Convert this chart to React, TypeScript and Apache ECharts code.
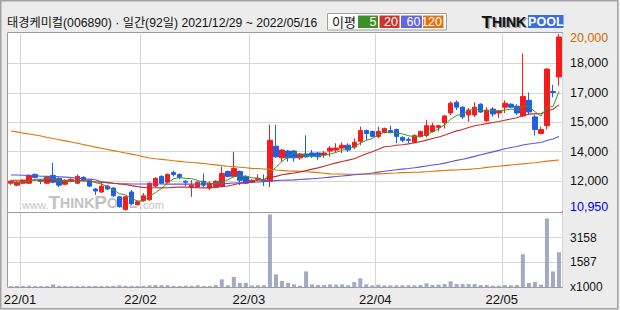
import React, { useEffect, useRef } from "react";
import * as echarts from "echarts";

const dates = [
  "2021/12/29", "2021/12/30",
  "2022/01/03", "2022/01/04", "2022/01/05", "2022/01/06", "2022/01/07", "2022/01/10", "2022/01/11", "2022/01/12", "2022/01/13", "2022/01/14",
  "2022/01/17", "2022/01/18", "2022/01/19", "2022/01/20", "2022/01/21", "2022/01/24", "2022/01/25", "2022/01/26", "2022/01/27", "2022/01/28",
  "2022/02/03", "2022/02/04", "2022/02/07", "2022/02/08", "2022/02/09", "2022/02/10", "2022/02/11", "2022/02/14", "2022/02/15", "2022/02/16",
  "2022/02/17", "2022/02/18", "2022/02/21", "2022/02/22", "2022/02/23", "2022/02/24", "2022/02/25", "2022/02/28",
  "2022/03/02", "2022/03/03", "2022/03/04", "2022/03/07", "2022/03/08", "2022/03/10", "2022/03/11", "2022/03/14", "2022/03/15", "2022/03/16",
  "2022/03/17", "2022/03/18", "2022/03/21", "2022/03/22", "2022/03/23", "2022/03/24", "2022/03/25", "2022/03/28", "2022/03/29", "2022/03/30", "2022/03/31",
  "2022/04/01", "2022/04/04", "2022/04/05", "2022/04/06", "2022/04/07", "2022/04/08", "2022/04/11", "2022/04/12", "2022/04/13", "2022/04/14",
  "2022/04/15", "2022/04/18", "2022/04/19", "2022/04/20", "2022/04/21", "2022/04/22", "2022/04/25", "2022/04/26", "2022/04/27", "2022/04/28", "2022/04/29",
  "2022/05/02", "2022/05/03", "2022/05/04", "2022/05/06", "2022/05/09", "2022/05/10", "2022/05/11", "2022/05/12", "2022/05/13", "2022/05/16",
];

const open = [
  12350, 12250, 12350, 12350, 12800, 12500, 12350, 12750, 12600, 12300, 12450, 12350, 12650, 12500, 12050, 11900, 12200, 12100, 11650, 11000,
  11900, 11250, 11450, 11500, 12200, 12700, 12400, 12900, 12800, 12450, 12150, 12150, 12450, 12100, 12150, 12200, 12950, 12700, 12950, 12700,
  12400, 12550, 12500, 12450, 14250, 13650, 14000, 14000, 13650, 13850, 13900, 13900, 13800, 14000, 14050, 14150, 14300, 14200, 14500, 15050,
  15000, 14750, 14950, 15050, 15100, 14700, 14600, 14450, 14750, 14800, 15000, 15200, 15450, 15950, 16500, 16250, 15850, 15850, 16400, 15550,
  16150, 15950, 16250, 16400, 16300, 15800, 16600, 15750, 14900, 15300, 17050, 17800,
];
const high = [
  12500, 12450, 12550, 12800, 12850, 12550, 12700, 13400, 12650, 12550, 12600, 12800, 12700, 12550, 12100, 12400, 12250, 12150, 11700, 11700,
  12000, 11450, 11850, 12400, 12650, 12750, 12850, 13000, 12850, 12500, 12500, 12450, 12850, 12450, 12500, 13200, 13000, 13950, 13000, 12750,
  12550, 12800, 12800, 15350, 15350, 14100, 14050, 14050, 13900, 14800, 14050, 13950, 14000, 14250, 14400, 14450, 14400, 14650, 15250, 15100,
  15050, 15250, 15200, 15300, 15150, 14750, 14700, 14850, 15050, 15600, 15450, 15350, 15850, 16550, 16600, 16300, 16200, 16500, 16450, 16250,
  16250, 16100, 16600, 16450, 16400, 19000, 17000, 15850, 15250, 18250, 17400, 20000,
];
const low = [
  12250, 12200, 12300, 12300, 12600, 12300, 12300, 12350, 12150, 12250, 12400, 12300, 12450, 12150, 11750, 11850, 12000, 11650, 11100, 10950,
  11250, 11200, 11400, 11450, 12150, 12300, 12350, 12700, 12550, 12200, 11650, 12100, 12150, 12000, 12100, 12150, 12650, 12650, 12250, 12300,
  12350, 12500, 12200, 12150, 13650, 13450, 13450, 13450, 13550, 13650, 13650, 13550, 13650, 13700, 13900, 13900, 13950, 14100, 14300, 14550,
  14700, 14650, 14900, 14900, 14400, 14450, 14400, 14400, 14700, 14700, 14950, 15000, 15150, 15850, 16100, 15650, 15500, 15750, 15950, 15500,
  15750, 15700, 15950, 16200, 15850, 15750, 15850, 14800, 14850, 15100, 16750, 17350,
];
const close = [
  12450, 12400, 12500, 12750, 12650, 12450, 12650, 12400, 12250, 12500, 12550, 12700, 12500, 12200, 11950, 12200, 12050, 11700, 11150, 11650,
  11300, 11400, 11700, 12350, 12600, 12350, 12800, 12800, 12650, 12400, 12250, 12400, 12250, 12350, 12450, 12850, 12700, 13100, 12500, 12350,
  12500, 12600, 12450, 14550, 13700, 14050, 13650, 13650, 13850, 13700, 13750, 13700, 13900, 14150, 14150, 14300, 14050, 14450, 15050, 14900,
  14750, 15000, 15150, 14950, 14750, 14550, 14550, 14800, 15000, 15300, 15300, 15300, 15800, 16450, 16250, 15750, 16100, 16250, 16000, 16100,
  15900, 16050, 16450, 16250, 15950, 16800, 16000, 15100, 15100, 18200, 17000, 19850,
];
// thousands of shares
const volume = [
  60, 65, 70, 75, 60, 55, 60, 170, 70, 60, 55, 60, 55, 60, 70, 65, 60, 75, 110, 80,
  70, 65, 70, 110, 120, 115, 110, 70, 65, 85, 70, 110, 65, 70, 120, 490, 110, 640, 260, 260,
  100, 105, 110, 4660, 810, 385, 260, 170, 85, 1000, 170, 130, 130, 170, 150, 170, 107, 320, 560, 170,
  107, 150, 107, 107, 107, 107, 107, 107, 130, 235, 130, 150, 190, 365, 190, 190, 190, 190, 130, 130,
  85, 85, 130, 107, 130, 2100, 260, 320, 150, 4400, 1000, 2230,
];

const ma5Head = [12400, 12400, 12420, 12450];
const ma20Head = [12500, 12500, 12500, 12500, 12500, 12500, 12500, 12500, 12500, 12480, 12480, 12470, 12460, 12450, 12420, 12400, 12380, 12350, 12310];
const ma60Head = [
  12770, 12770, 12760, 12750, 12730, 12710, 12700, 12690, 12680, 12660, 12640, 12610, 12580, 12560, 12530, 12420, 12380, 12350, 12330, 12320,
  12310, 12310, 12310, 12310, 12310, 12310, 12300, 12300, 12300, 12300, 12300, 12300, 12310, 12310, 12320, 12330, 12340, 12360, 12370, 12380,
  12390, 12410, 12430, 12460, 12480, 12500, 12510, 12520, 12540, 12560, 12580, 12600, 12630, 12660, 12690, 12720, 12750, 12780, 12810,
];
const ma120 = [
  15030, 14980, 14920, 14870, 14820, 14770, 14690, 14640, 14580, 14520, 14460, 14400, 14330, 14270, 14200, 14140, 14080, 14020, 13960, 13900,
  13840, 13780, 13710, 13640, 13600, 13570, 13540, 13500, 13470, 13440, 13410, 13390, 13360, 13320, 13290, 13250, 13220, 13200, 13170, 13140,
  13110, 13100, 13080, 13060, 13030, 13010, 12980, 12970, 12960, 12940, 12920, 12890, 12860, 12830, 12820, 12820, 12810, 12810, 12810, 12810,
  12820, 12830, 12840, 12860, 12870, 12890, 12900, 12910, 12920, 12940, 12960, 12980, 13000, 13020, 13030, 13050, 13060, 13090, 13120, 13160,
  13190, 13220, 13250, 13280, 13310, 13340, 13370, 13400, 13440, 13480, 13510, 13540,
];

const monthTicks = ["22/01", "22/02", "22/03", "22/04", "22/05"];
const priceTickLabels = ["10,950", "12,000", "14,000", "15,000", "17,000", "18,000", "20,000"];
const volumeTickLabels = ["x1000", "1587", "3158", ""];
const maLegend = ["5", "20", "60", "120"];

const PRICE_MIN = 10950;
const PRICE_STEP = 1508.5;
const VOL_STEP = 1584;

const FONT = '"Liberation Sans", "Noto Sans CJK KR", sans-serif';
const MA_COLORS = ["#3f9424", "#c3302a", "#5f55e0", "#e07408"];
const LEGEND_BOX = ["#3f8f28", "#c8372d", "#6565dc", "#de7410"];
const UP = "#f41c1c";
const DOWN = "#1f5fe3";

function movingAvg(n: number, head: number[]) {
  return close.map((_, i) => {
    if (i < n - 1) return head[i];
    let s = 0;
    for (let k = i - n + 1; k <= i; k++) s += close[k];
    return Math.round(s / n);
  });
}

export default function App() {
  const ref = useRef<HTMLDivElement>(null);

  useEffect(() => {
    document.body.style.margin = "0";
    if (!ref.current) return;
    const chart = echarts.init(ref.current, undefined, { renderer: "svg" });

    const monthIdx = new Set(monthTicks.map((t) => dates.findIndex((d) => d.slice(2, 7) === t)));
    const ma5 = movingAvg(5, ma5Head);
    const ma20 = movingAvg(20, ma20Head);
    const ma60 = movingAvg(60, ma60Head);
    const candle = dates.map((_, i) => [open[i], close[i], low[i], high[i]]);

    const legendItems: any[] = [];
    const boxX = [358, 379.5, 401, 423];
    const boxW = [20, 20, 21, 20.5];
    maLegend.forEach((t, i) => {
      legendItems.push({
        type: "rect", silent: true, z: 10,
        shape: { x: boxX[i], y: 15.5, width: boxW[i], height: 12.5 },
        style: { fill: LEGEND_BOX[i] },
      });
      legendItems.push({
        type: "text", silent: true, z: 11,
        x: boxX[i] + boxW[i] - 1.5, y: 22,
        style: { text: t, fill: "#fff", font: `12.5px ${FONT}`, textAlign: "right", textVerticalAlign: "middle", align: "right", verticalAlign: "middle" },
      });
    });

    const option: any = {
      animation: false,
      backgroundColor: "#ececec",
      grid: [
        { left: 8, top: 34, width: 554, height: 176.5, outerBoundsMode: "none" },
        { left: 8, top: 213, width: 554, height: 74, outerBoundsMode: "none" },
      ],
      xAxis: [
        {
          type: "category", gridIndex: 0, data: dates, boundaryGap: true,
          axisLine: { show: false }, axisTick: { show: false }, axisLabel: { show: false },
          splitLine: { show: true, interval: (i: number) => monthIdx.has(i), lineStyle: { color: "#d6d6d6", width: 1 } },
        },
        {
          type: "category", gridIndex: 1, data: dates, boundaryGap: true,
          axisLine: { show: false }, axisTick: { show: false },
          axisLabel: {
            show: true, interval: (i: number) => monthIdx.has(i),
            formatter: (v: string) => v.slice(2, 7),
            color: "#111", fontSize: 13, fontFamily: FONT, margin: 6, padding: [0, 6, 0, 0],
          },
          splitLine: { show: true, interval: (i: number) => monthIdx.has(i), lineStyle: { color: "#d6d6d6", width: 1 } },
        },
      ],
      yAxis: [
        {
          type: "value", gridIndex: 0, position: "right", scale: true,
          min: PRICE_MIN, max: PRICE_MIN + 6 * PRICE_STEP, interval: PRICE_STEP,
          axisLine: { show: false }, axisTick: { show: false },
          splitLine: { show: true, showMinLine: false, showMaxLine: false, lineStyle: { color: "#d6d6d6", width: 1 } },
          axisLabel: {
            show: true, showMinLabel: true, showMaxLabel: true, margin: 8,
            color: "#111", fontSize: 12.5, fontFamily: FONT,
            formatter: (v: number) => {
              const k = Math.round((v - PRICE_MIN) / PRICE_STEP);
              const t = priceTickLabels[k] ?? "";
              if (k === 0) return `{lo|${t}}`;
              if (k === 6) return `{hi|${t}}`;
              return t;
            },
            rich: {
              lo: { color: "#0000f0", fontSize: 12.5, fontFamily: FONT, padding: [0, 0, 8, 0] },
              hi: { color: "#d06a00", fontSize: 12.5, fontFamily: FONT, padding: [7, 0, 0, 0] },
            },
          },
        },
        {
          type: "value", gridIndex: 1, position: "right",
          min: 0, max: 3 * VOL_STEP, interval: VOL_STEP,
          axisLine: { show: false }, axisTick: { show: false },
          splitLine: { show: true, showMinLine: false, showMaxLine: false, lineStyle: { color: "#d6d6d6", width: 1 } },
          axisLabel: {
            show: true, showMinLabel: true, showMaxLabel: true, margin: 8,
            color: "#111", fontSize: 12, fontFamily: FONT,
            formatter: (v: number) => volumeTickLabels[Math.round(v / VOL_STEP)] ?? "",
          },
        },
      ],
      series: [
        {
          type: "candlestick", xAxisIndex: 0, yAxisIndex: 0, data: candle, barWidth: 5,
          itemStyle: { color: UP, color0: DOWN, borderColor: UP, borderColor0: DOWN, borderWidth: 1 },
        },
        { type: "line", xAxisIndex: 0, yAxisIndex: 0, data: ma120, symbol: "none", lineStyle: { color: MA_COLORS[3], width: 1.1 } },
        { type: "line", xAxisIndex: 0, yAxisIndex: 0, data: ma60, symbol: "none", lineStyle: { color: MA_COLORS[2], width: 1.1 } },
        { type: "line", xAxisIndex: 0, yAxisIndex: 0, data: ma20, symbol: "none", lineStyle: { color: MA_COLORS[1], width: 1.1 } },
        { type: "line", xAxisIndex: 0, yAxisIndex: 0, data: ma5, symbol: "none", lineStyle: { color: MA_COLORS[0], width: 1 } },
        {
          type: "bar", xAxisIndex: 1, yAxisIndex: 1, data: volume, barWidth: 4,
          itemStyle: { color: "#a2aac4" },
        },
      ],
      graphic: [
        { type: "rect", silent: true, z: -10, shape: { x: 7.5, y: 32.5, width: 555, height: 180 }, style: { fill: "#fff", stroke: "#9c9c9c", lineWidth: 1 } },
        { type: "rect", silent: true, z: -10, shape: { x: 7.5, y: 212.5, width: 555, height: 75 }, style: { fill: "#fff", stroke: "#9c9c9c", lineWidth: 1 } },
        // watermark
        { type: "text", silent: true, z: -5, x: 22, y: 205, style: { text: "www.", fill: "#c6c6c6", font: `11px ${FONT}`, textVerticalAlign: "middle", verticalAlign: "middle" } },
        {
          type: "text", silent: true, z: -5, x: 48.5, y: 202.5,
          style: {
            text: "{a|T}{b|HINK}{a|P}{b|OOL}", textVerticalAlign: "middle", verticalAlign: "middle",
            rich: {
              a: { fontSize: 19, fontWeight: "bold", fontFamily: FONT, fill: "#c2c2c2", color: "#c2c2c2" },
              b: { fontSize: 14, fontWeight: "bold", fontFamily: FONT, fill: "#c2c2c2", color: "#c2c2c2" },
            },
          },
        },
        { type: "text", silent: true, z: -5, x: 140, y: 205, style: { text: ".com", fill: "#c6c6c6", font: `11px ${FONT}`, textVerticalAlign: "middle", verticalAlign: "middle" } },
        // title
        {
          type: "text", silent: true, z: 10, x: 7, y: 22.5,
          style: { text: "태경케미컬(006890) · 일간(92일) 2021/12/29 ~ 2022/05/16", fill: "#111", font: `12.2px ${FONT}`, textVerticalAlign: "middle", verticalAlign: "middle" },
        },
        // MA legend box
        { type: "rect", silent: true, z: 9, shape: { x: 327.5, y: 13.5, width: 119, height: 16.5 }, style: { fill: "#fff", stroke: "#a0a0a0", lineWidth: 1 } },
        { type: "text", silent: true, z: 10, x: 332, y: 22, style: { text: "이평", fill: "#111", font: `13px ${FONT}`, textVerticalAlign: "middle", verticalAlign: "middle" } },
        ...legendItems,
        // logo
        { type: "text", silent: true, z: 10, x: 483, y: 23, style: { text: "{a|T}{b|HINK}", textVerticalAlign: "middle", verticalAlign: "middle", rich: { a: { fontSize: 17, fontWeight: "bold", fontFamily: FONT, color: "#9a9a9a", fill: "#9a9a9a" }, b: { fontSize: 14, fontWeight: "bold", fontFamily: FONT, color: "#9a9a9a", fill: "#9a9a9a" } } } },
        { type: "text", silent: true, z: 11, x: 481.5, y: 22, style: { text: "{a|T}{b|HINK}", textVerticalAlign: "middle", verticalAlign: "middle", rich: { a: { fontSize: 17, fontWeight: "bold", fontFamily: FONT, color: "#111", fill: "#111" }, b: { fontSize: 14, fontWeight: "bold", fontFamily: FONT, color: "#111", fill: "#111" } } } },
        { type: "rect", silent: true, z: 10, shape: { x: 528, y: 15, width: 35.5, height: 13 }, style: { fill: "#3b70dc" } },
        { type: "text", silent: true, z: 11, x: 545.8, y: 22, style: { text: "POOL", fill: "#fff", font: `bold 12.5px ${FONT}`, textAlign: "center", align: "center", textVerticalAlign: "middle", verticalAlign: "middle" } },
        // outer frame
        { type: "rect", silent: true, z: 50, shape: { x: 0.75, y: 0.75, width: 617, height: 308 }, style: { fill: "none", stroke: "#a3a3a3", lineWidth: 1.5 } },
      ],
    };

    chart.setOption(option);
    return () => chart.dispose();
  }, []);

  return <div ref={ref} style={{ width: 620, height: 310 }} />;
}
